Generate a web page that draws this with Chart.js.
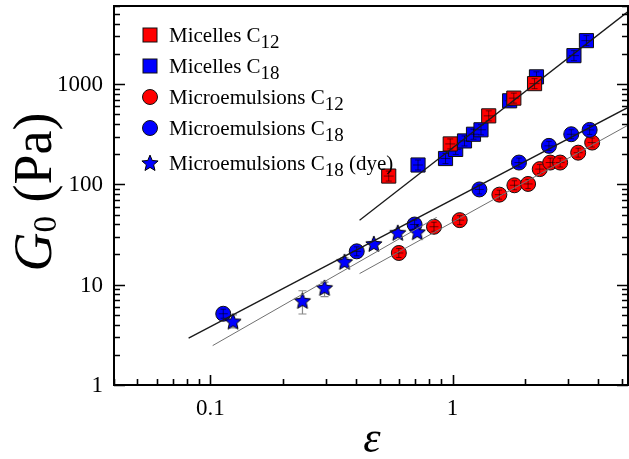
<!DOCTYPE html>
<html>
<head>
<meta charset="utf-8">
<script src="https://cdn.jsdelivr.net/npm/chart.js@4.4.1/dist/chart.umd.min.js"></script>
<style>
html, body { margin: 0; padding: 0; background: #fff; }
#wrap { width: 629px; height: 459px; }
</style>
</head>
<body>
<div id="wrap"><canvas id="chart"></canvas></div>
<script>
// Micelles C12 (red squares)
const micC12X = [0.545, 0.978, 1.41, 1.79, 2.18];
const micC12Y = [121, 253, 482, 724, 1010];
// Micelles C18 (blue squares)
const micC18X = [0.72, 0.935, 1.03, 1.12, 1.22, 1.31, 1.72, 2.22, 3.17, 3.57];
const micC18Y = [156, 181, 223, 271, 316, 350, 681, 1180, 1920, 2710];
// Microemulsions C12 (red circles)
const emuC12X = [0.600, 0.838, 1.07, 1.56, 1.80, 2.05, 2.29, 2.53, 2.78, 3.30, 3.77];
const emuC12Y = [20.7, 37.8, 44, 79, 98, 101, 142, 165, 165, 207, 261];
// Microemulsions C18 (blue circles)
const emuC18X = [0.113, 0.402, 0.697, 1.29, 1.88, 2.50, 3.09, 3.68];
const emuC18Y = [5.13, 21.5, 39.8, 89, 165, 242, 316, 349];
// Microemulsions C18 with dye (stars) + error bars
const dyeX = [0.124, 0.240, 0.296, 0.358, 0.473, 0.594, 0.715];
const dyeY = [4.3, 6.9, 9.3, 16.9, 25.5, 32.9, 33.4];
const dyeErrLo = [3.7, 5.1, 7.6, 15.2, null, null, 30.5];
const dyeErrHi = [5.0, 8.7, 10.6, 18.5, null, null, 36.5];

// fitted power laws (end points)
const fitMicX = [0.413, 5.3];
const fitMicY = [44, 5280];
const fitEmuC18X = [0.0813, 5.3];
const fitEmuC18Y = [2.93, 585];
const fitDyeX = [0.1022, 0.859];
const fitDyeY = [2.47, 46.8];
const fitEmuC12X = [0.413, 5.3];
const fitEmuC12Y = [12.9, 389];

// axes
const xMin = 0.04, xMax = 5.3;
const yMin = 1, yMax = 6000;
const xTicks = [0.04, 0.05, 0.06, 0.07, 0.08, 0.09, 0.1, 0.2, 0.3, 0.4, 0.5, 0.6, 0.7, 0.8, 0.9, 1, 2, 3, 4, 5];
const xTickLabels = [0.1, 1];
const yTicks = [1, 2, 3, 4, 5, 6, 7, 8, 9, 10, 20, 30, 40, 50, 60, 70, 80, 90,
  100, 200, 300, 400, 500, 600, 700, 800, 900, 1000, 2000, 3000, 4000, 5000, 6000];
const yTickLabels = [1, 10, 100, 1000];

const legendLabels = [
  ['Micelles C', '12', ''],
  ['Micelles C', '18', ''],
  ['Microemulsions C', '12', ''],
  ['Microemulsions C', '18', ''],
  ['Microemulsions C', '18', ' (dye)']
];

const RED = '#ff0000';
const BLUE = '#0000ff';
const SERIF = '"Liberation Serif", "Times New Roman", serif';

function toPoints(xs, ys) {
  return xs.map((x, i) => ({ x: x, y: ys[i] }));
}

function makeStar(r, fill) {
  const c = document.createElement('canvas');
  const s = Math.ceil(r * 2 + 3);
  c.width = s;
  c.height = s;
  const g = c.getContext('2d');
  g.beginPath();
  for (let i = 0; i < 10; i++) {
    const a = -Math.PI / 2 + i * Math.PI / 5;
    const rr = i % 2 ? r * 0.45 : r;
    g.lineTo(s / 2 + rr * Math.cos(a), s / 2 + 0.6 + rr * Math.sin(a));
  }
  g.closePath();
  g.fillStyle = fill;
  g.fill();
  g.lineWidth = 1;
  g.strokeStyle = '#000';
  g.stroke();
  return c;
}

const starImg = makeStar(8.5, BLUE);

function scatterSet(label, xs, ys, color, style, radius, order) {
  return {
    type: 'scatter',
    label: label,
    data: toPoints(xs, ys),
    backgroundColor: color,
    borderColor: '#111',
    borderWidth: 1,
    pointStyle: style,
    pointRadius: radius,
    crossSize: style === 'rect' ? 5 : (style === 'circle' ? 4.5 : 0),
    order: order
  };
}

function fitSet(xs, ys, color, width) {
  return {
    type: 'line',
    data: toPoints(xs, ys),
    borderColor: color,
    borderWidth: width,
    pointRadius: 0,
    fill: false,
    order: 0
  };
}

const datasets = [
  fitSet(fitMicX, fitMicY, '#1a1a1a', 1.3),
  fitSet(fitEmuC18X, fitEmuC18Y, '#1a1a1a', 1.3),
  fitSet(fitDyeX, fitDyeY, '#707070', 1),
  fitSet(fitEmuC12X, fitEmuC12Y, '#707070', 1),
  scatterSet('Microemulsions C18 (dye)', dyeX, dyeY, BLUE, starImg, 8, 1),
  scatterSet('Microemulsions C18', emuC18X, emuC18Y, BLUE, 'circle', 7.5, 2),
  scatterSet('Microemulsions C12', emuC12X, emuC12Y, RED, 'circle', 7.5, 3),
  scatterSet('Micelles C12', micC12X, micC12Y, RED, 'rect', 10, 4),
  scatterSet('Micelles C18', micC18X, micC18Y, BLUE, 'rect', 10, 5)
];

const decor = {
  id: 'decor',
  beforeDatasetsDraw(chart) {
    const ctx = chart.ctx;
    const xs = chart.scales.x, ys = chart.scales.y;
    ctx.save();
    ctx.strokeStyle = '#8a8a8a';
    ctx.lineWidth = 1.2;
    dyeX.forEach((x, i) => {
      if (dyeErrLo[i] == null) return;
      const px = xs.getPixelForValue(x);
      const y1 = ys.getPixelForValue(dyeErrLo[i]);
      const y2 = ys.getPixelForValue(dyeErrHi[i]);
      ctx.beginPath();
      ctx.moveTo(px, y1); ctx.lineTo(px, y2);
      ctx.moveTo(px - 4, y1); ctx.lineTo(px + 4, y1);
      ctx.moveTo(px - 4, y2); ctx.lineTo(px + 4, y2);
      ctx.stroke();
    });
    ctx.restore();
  },
  afterDatasetDraw(chart, args) {
    const ds = chart.data.datasets[args.index];
    if (!ds.crossSize) return;
    const ctx = chart.ctx;
    const s = ds.crossSize;
    ctx.save();
    ctx.strokeStyle = 'rgba(0,0,0,0.7)';
    ctx.lineWidth = 0.8;
    args.meta.data.forEach(pt => {
      ctx.beginPath();
      ctx.moveTo(pt.x - s, pt.y); ctx.lineTo(pt.x + s, pt.y);
      ctx.moveTo(pt.x, pt.y - s); ctx.lineTo(pt.x, pt.y + s);
      ctx.moveTo(pt.x - s * 0.6, pt.y - s); ctx.lineTo(pt.x + s * 0.6, pt.y - s);
      ctx.moveTo(pt.x - s * 0.6, pt.y + s); ctx.lineTo(pt.x + s * 0.6, pt.y + s);
      ctx.stroke();
    });
    ctx.restore();
  },
  afterDraw(chart) {
    const ctx = chart.ctx;
    const a = chart.chartArea;
    const xs = chart.scales.x, ys = chart.scales.y;
    ctx.save();

    // frame
    ctx.strokeStyle = '#000';
    ctx.lineWidth = 2;
    ctx.strokeRect(a.left, a.top, a.right - a.left, a.bottom - a.top);

    // inward ticks
    ctx.lineWidth = 1.6;
    ctx.beginPath();
    yTicks.forEach(v => {
      const py = Math.round(ys.getPixelForValue(v)) + 0.5;
      const len = yTickLabels.includes(v) ? 11 : 6;
      ctx.moveTo(a.left, py); ctx.lineTo(a.left + len, py);
      ctx.moveTo(a.right, py); ctx.lineTo(a.right - len, py);
    });
    xTicks.forEach(v => {
      const px = Math.round(xs.getPixelForValue(v)) + 0.5;
      const len = xTickLabels.includes(v) ? 10 : 6;
      ctx.moveTo(px, a.bottom); ctx.lineTo(px, a.bottom - len);
    });
    ctx.stroke();

    // tick labels
    ctx.fillStyle = '#000';
    ctx.font = '23px ' + SERIF;
    ctx.textAlign = 'right';
    ctx.textBaseline = 'middle';
    yTickLabels.forEach(v => {
      ctx.fillText(String(v), a.left - 11, ys.getPixelForValue(v) + 1);
    });
    ctx.textAlign = 'center';
    ctx.textBaseline = 'top';
    xTickLabels.forEach(v => {
      ctx.fillText(String(v), xs.getPixelForValue(v), a.bottom + 12);
    });

    // legend
    const rows = [35, 66, 97, 128, 163];
    const mx = 150, tx = 169;
    const order = ['Micelles C12', 'Micelles C18', 'Microemulsions C12', 'Microemulsions C18', 'Microemulsions C18 (dye)'];
    order.forEach((lab, i) => {
      const ds = chart.data.datasets.find(d => d.label === lab);
      const y = rows[i];
      ctx.fillStyle = ds.backgroundColor;
      ctx.strokeStyle = '#111';
      ctx.lineWidth = 1;
      if (ds.pointStyle === 'rect') {
        ctx.fillRect(mx - 7, y - 7, 14, 14);
        ctx.strokeRect(mx - 7, y - 7, 14, 14);
      } else if (ds.pointStyle === 'circle') {
        ctx.beginPath();
        ctx.arc(mx, y, 7.5, 0, Math.PI * 2);
        ctx.fill();
        ctx.stroke();
      } else {
        ctx.drawImage(ds.pointStyle, mx - ds.pointStyle.width / 2, y - ds.pointStyle.height / 2);
      }
      const parts = legendLabels[i];
      ctx.fillStyle = '#000';
      ctx.textBaseline = 'alphabetic';
      ctx.textAlign = 'left';
      ctx.font = '21px ' + SERIF;
      let x = tx;
      ctx.fillText(parts[0], x, y + 7);
      x += ctx.measureText(parts[0]).width;
      ctx.font = '19px ' + SERIF;
      ctx.fillText(parts[1], x, y + 12.5);
      x += ctx.measureText(parts[1]).width;
      if (parts[2]) {
        ctx.font = '21px ' + SERIF;
        ctx.fillText(parts[2], x, y + 7);
      }
    });

    // y title: G0 (Pa)
    ctx.save();
    ctx.translate(51, 192);
    ctx.rotate(-Math.PI / 2);
    ctx.fillStyle = '#000';
    ctx.textBaseline = 'alphabetic';
    ctx.textAlign = 'left';
    const fMain = '54px ' + SERIF, fIt = 'italic 54px ' + SERIF, fSub = '33px ' + SERIF;
    ctx.font = fIt; const wG = ctx.measureText('G').width;
    ctx.font = fSub; const w0 = ctx.measureText('0').width;
    ctx.font = fMain; const wP = ctx.measureText(' (Pa)').width;
    let sx = -(wG + w0 + wP) / 2;
    ctx.font = fIt; ctx.fillText('G', sx, 0); sx += wG;
    ctx.font = fSub; ctx.fillText('0', sx, 5); sx += w0;
    ctx.font = fMain; ctx.fillText(' (Pa)', sx, 0);
    ctx.restore();

    // x title
    ctx.font = 'italic 44px ' + SERIF;
    ctx.textAlign = 'center';
    ctx.textBaseline = 'alphabetic';
    ctx.fillText('\u03b5', 372, 452);

    ctx.restore();
  }
};

new Chart(document.getElementById('chart'), {
  data: { datasets: datasets },
  options: {
    responsive: true,
    maintainAspectRatio: false,
    animation: false,
    layout: { autoPadding: false, padding: { left: 0, right: 1, top: 6, bottom: 0 } },
    plugins: {
      legend: { display: false },
      tooltip: { enabled: false }
    },
    scales: {
      x: {
        type: 'logarithmic',
        position: 'bottom',
        min: xMin,
        max: xMax,
        grid: { display: false },
        border: { display: false },
        ticks: { display: false },
        afterFit: s => { s.height = 74; }
      },
      y: {
        type: 'logarithmic',
        position: 'left',
        min: yMin,
        max: yMax,
        grid: { display: false },
        border: { display: false },
        ticks: { display: false },
        afterFit: s => { s.width = 114; }
      }
    }
  },
  plugins: [decor]
});
</script>
</body>
</html>
